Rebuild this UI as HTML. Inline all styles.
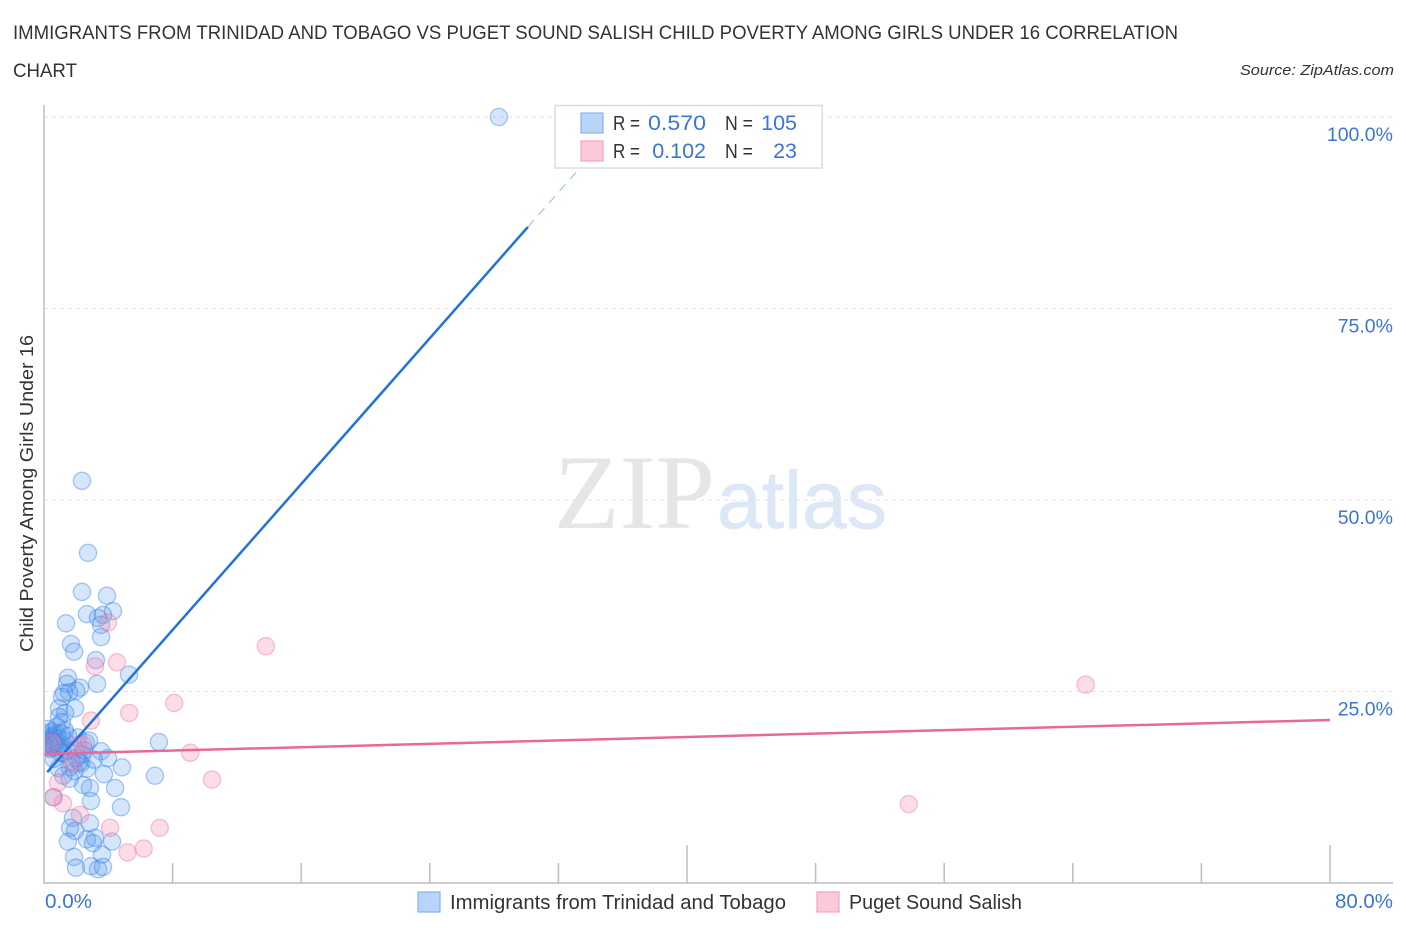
<!DOCTYPE html>
<html lang="en">
<head>
<meta charset="utf-8">
<title>Child Poverty Correlation Chart</title>
<style>
html,body{margin:0;padding:0;background:#fff;}
svg{display:block;font-family:"Liberation Sans",sans-serif;}
</style>
</head>
<body>
<svg id="chart" xmlns="http://www.w3.org/2000/svg" width="1406" height="930" viewBox="0 0 1406 930">
  <defs><clipPath id="plot-clip"><rect x="45" y="100" width="1300" height="783"/></clipPath></defs>
  <rect width="1406" height="930" fill="#fff"/>
  <text x="13" y="39" font-size="19" fill="#333" textLength="1165" lengthAdjust="spacingAndGlyphs">IMMIGRANTS FROM TRINIDAD AND TOBAGO VS PUGET SOUND SALISH CHILD POVERTY AMONG GIRLS UNDER 16 CORRELATION</text>
  <text x="13" y="77" font-size="19" fill="#333" textLength="64" lengthAdjust="spacingAndGlyphs">CHART</text>
  <text x="1394" y="75" font-size="15" font-style="italic" fill="#333" text-anchor="end" textLength="154" lengthAdjust="spacingAndGlyphs">Source: ZipAtlas.com</text>
  <text x="554" y="528" font-family="'Liberation Serif',serif" font-size="106" fill="#e6e6e6" textLength="161" lengthAdjust="spacingAndGlyphs">ZIP</text>
  <text x="717" y="528" font-size="82" fill="#dde8f7" stroke="#dde8f7" stroke-width="0.7" textLength="170" lengthAdjust="spacingAndGlyphs">atlas</text>
  <g id="grid"></g>
  <g id="ticks"></g>
  <g id="blue-points" clip-path="url(#plot-clip)"></g>
  <g id="pink-points" clip-path="url(#plot-clip)"></g>
  <g id="trends"></g>
  <line x1="44" y1="105" x2="44" y2="884" stroke="#bdbdbd" stroke-width="1.5"/>
  <line x1="44" y1="883" x2="1393" y2="883" stroke="#bdbdbd" stroke-width="1.5"/>
  <g id="y-labels"></g>
  <text x="45" y="908" font-size="20" fill="#3b74d8" textLength="47" lengthAdjust="spacingAndGlyphs">0.0%</text>
  <text x="1393" y="908" font-size="20" fill="#3b74d8" text-anchor="end" textLength="58" lengthAdjust="spacingAndGlyphs">80.0%</text>
  <text transform="translate(33,493.5) rotate(-90)" font-size="18.5" fill="#333" text-anchor="middle" textLength="317" lengthAdjust="spacingAndGlyphs">Child Poverty Among Girls Under 16</text>

  <g>
    <rect x="555" y="105.500" width="267" height="62.500" fill="#fff" fill-opacity="0.9" stroke="#dcdcdc" stroke-width="1.500"/>
    <rect x="581" y="113" width="22" height="20" fill="#b8d4f8" stroke="#86b4ee" stroke-width="1.200"/>
    <rect x="581" y="141" width="22" height="20" fill="#fbc9da" stroke="#f2a3bd" stroke-width="1.200"/>
    <text x="613" y="130" font-size="20.500" fill="#333" textLength="27" lengthAdjust="spacingAndGlyphs">R =</text>
    <text x="648" y="130" font-size="21.500" fill="#3b74d8" textLength="58" lengthAdjust="spacingAndGlyphs">0.570</text>
    <text x="725" y="130" font-size="20.500" fill="#333" textLength="28" lengthAdjust="spacingAndGlyphs">N =</text>
    <text x="797" y="130" font-size="21.500" fill="#3b74d8" text-anchor="end">105</text>
    <text x="613" y="158" font-size="20.500" fill="#333" textLength="27" lengthAdjust="spacingAndGlyphs">R =</text>
    <text x="706" y="158" font-size="21.500" fill="#3b74d8" text-anchor="end">0.102</text>
    <text x="725" y="158" font-size="20.500" fill="#333" textLength="28" lengthAdjust="spacingAndGlyphs">N =</text>
    <text x="797" y="158" font-size="21.500" fill="#3b74d8" text-anchor="end">23</text>
  </g>

  <g>
    <rect x="418" y="892" width="22" height="20" fill="#b8d4f8" stroke="#86b4ee" stroke-width="1.200"/>
    <text x="450" y="909" font-size="20" fill="#333" textLength="336" lengthAdjust="spacingAndGlyphs">Immigrants from Trinidad and Tobago</text>
    <rect x="817" y="892" width="22" height="20" fill="#fbc9da" stroke="#f2a3bd" stroke-width="1.200"/>
    <text x="849" y="909" font-size="20" fill="#333" textLength="173" lengthAdjust="spacingAndGlyphs">Puget Sound Salish</text>
  </g>
</svg>
<script>
const yTicks = [25, 50, 75, 100];
const yTickLabels = ["25.0%", "50.0%", "75.0%", "100.0%"];
const xTicks = [0, 8, 16, 24, 32, 40, 48, 56, 64, 72, 80];
const xMajorTicks = [40, 80];

const blueX = [28.3,2.36,2.74,2.36,3.92,4.29,2.67,3.67,3.36,3.55,1.37,3.55,1.68,1.87,3.23,5.29,1.49,3.3,1.43,2.24,2.0,1.24,1.56,1.12,1.93,0.93,1.31,0.93,1.12,
  3.55,3.98,3.73,4.85,4.42,4.79,2.92,2.86,2.43,2.67,4.23,2.86,1.8,1.62,1.93,1.49,3.17,2.67,3.05,3.61,1.87,1.99,2.92,3.36,3.67,7.15,6.9,
  0.1,0.2,0.2,0.3,0.3,0.3,0.4,0.4,0.4,0.5,0.5,0.5,0.6,0.6,0.6,0.7,0.7,0.8,0.8,0.9,0.9,1.0,0.2,0.8,1.1,1.2,1.3,1.4,1.5,1.7,1.9,2.1,2.3,2.4,2.6,1.9,2.2,2.0,1.6,0.9,1.2,0.6,0.6,1.0,1.6,1.3,2.5,3.1,2.8];
const blueY = [100,52.5,43.1,38.0,37.5,35.5,35.1,35.0,34.6,33.7,33.9,32.1,31.2,30.2,29.1,27.2,26.8,26.0,26.0,25.5,25.1,24.8,24.9,24.3,22.8,22.8,22.2,21.7,21.0,
  17.2,16.3,14.2,15.1,12.4,9.9,10.7,12.4,12.8,14.9,5.4,7.8,8.5,7.2,6.8,5.4,5.9,5.7,5.2,3.7,3.4,2.0,2.2,1.8,2.1,18.4,14.0,
  18.7,19.3,18.1,19.6,18.5,17.7,19.1,18.3,17.5,19.8,18.8,18.0,19.2,18.5,17.7,19.0,18.2,19.4,18.4,18.8,17.8,18.2,20.1,20.4,19.5,16.9,18.6,17.3,19.2,15.9,17.4,19.0,15.6,16.8,18.3,14.6,15.8,16.3,15.1,15.0,14.0,16.2,11.2,17.0,13.6,19.9,17.3,16.1,18.6];

const pinkX = [13.8,64.8,53.8,3.98,3.17,4.54,8.1,5.3,2.92,9.1,10.45,7.2,6.2,5.2,4.11,2.24,1.18,0.56,0.87,2.43,1.74,0.5,2.1];
const pinkY = [30.9,25.9,10.3,34.0,28.3,28.8,23.5,22.2,21.2,17.0,13.5,7.2,4.5,4.0,7.2,8.9,10.4,11.2,13.1,18.0,15.6,18.3,18.0];

const blueTrendIntercept = 14.0;
const blueTrendSlope = 2.38;
const blueSolidEndX = 30.1;
const blueDashEndX = 36.2;
const pinkTrendIntercept = 16.84;
const pinkTrendSlope = 0.0555;
const pinkTrendEndX = 80;

function xScale(v) { return 44 + v * 16.075; }
function yScale(v) { return 883 - v * 7.66; }

const NS = "http://www.w3.org/2000/svg";
function make(tag, attrs, parent) {
  const el = document.createElementNS(NS, tag);
  for (const k in attrs) el.setAttribute(k, attrs[k]);
  parent.appendChild(el);
  return el;
}

const grid = document.getElementById("grid");
const yLabels = document.getElementById("y-labels");
yTicks.forEach(function (t, i) {
  const line = make("line", {x1: 44, x2: 1394, y1: yScale(t), y2: yScale(t), stroke: "#e2e2e2", "stroke-width": 1, "stroke-dasharray": "4 4"}, grid);
  
  
  const label = make("text", {x: 1393, y: yScale(t) + 24, "font-size": 19.5, fill: "#3b74d8", "text-anchor": "end"}, yLabels);
  label.textContent = yTickLabels[i];
  
  
});

const ticks = document.getElementById("ticks");
xTicks.slice(1).forEach(function (t) {
  const top = xMajorTicks.indexOf(t) >= 0 ? 845 : 863;
  const tick = make("line", {x1: xScale(t), x2: xScale(t), y1: top, y2: 883, stroke: "#bdbdbd", "stroke-width": 1.5}, ticks);
  
  
});

const bluePoints = document.getElementById("blue-points");
blueX.forEach(function (x, i) {
  const c = make("circle", {cx: xScale(x), cy: yScale(blueY[i]), r: 8.6, fill: "#5a9aec", "fill-opacity": 0.25, stroke: "#2f7fe6", "stroke-opacity": 0.42, "stroke-width": 1.3}, bluePoints);
  
  
});

const pinkPoints = document.getElementById("pink-points");
pinkX.forEach(function (x, i) {
  const c = make("circle", {cx: xScale(x), cy: yScale(pinkY[i]), r: 8.6, fill: "#f48fb1", "fill-opacity": 0.3, stroke: "#ec6f9c", "stroke-opacity": 0.42, "stroke-width": 1.3}, pinkPoints);
  
  
});

const trends = document.getElementById("trends");
function blueAt(x) { return blueTrendIntercept + blueTrendSlope * x; }
function pinkAt(x) { return pinkTrendIntercept + pinkTrendSlope * x; }

const blueSolid = make("line", {x1: xScale(0.2), y1: yScale(blueAt(0.2)), x2: xScale(blueSolidEndX), y2: yScale(blueAt(blueSolidEndX)), stroke: "#2272de", "stroke-width": 2.5}, trends);



const blueDash = make("line", {x1: xScale(blueSolidEndX), y1: yScale(blueAt(blueSolidEndX)), x2: xScale(blueDashEndX), y2: yScale(blueAt(blueDashEndX)), stroke: "#7fa6e2", "stroke-width": 0.8, "stroke-dasharray": "9 7"}, trends);



const pinkLine = make("line", {x1: xScale(0), y1: yScale(pinkAt(0)), x2: xScale(pinkTrendEndX), y2: yScale(pinkAt(pinkTrendEndX)), stroke: "#e8689a", "stroke-width": 2.5}, trends);


</script>
</body>
</html>
